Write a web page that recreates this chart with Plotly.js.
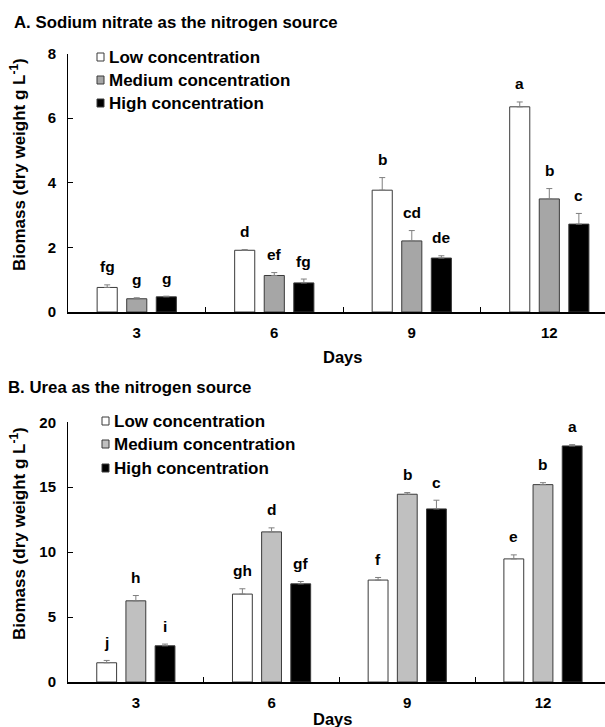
<!DOCTYPE html>
<html>
<head>
<meta charset="utf-8">
<script src="https://cdn.plot.ly/plotly-3.0.1.min.js"></script>
<style>html,body{margin:0;padding:0;background:#fff;}#chart{width:605px;height:727px;}</style>
</head>
<body>
<div id="chart"></div>
<script>
// ---- data ----
const days = ['3', '6', '9', '12'];
const seriesNames = ['Low concentration', 'Medium concentration', 'High concentration'];

// Panel A: sodium nitrate
const nitrateLow = [0.76, 1.91, 3.77, 6.35];
const nitrateLowErr = [0.08, 0.02, 0.39, 0.15];
const nitrateMed = [0.41, 1.13, 2.20, 3.50];
const nitrateMedErr = [0.03, 0.09, 0.32, 0.32];
const nitrateHigh = [0.47, 0.90, 1.67, 2.72];
const nitrateHighErr = [0.02, 0.12, 0.07, 0.33];
const nitrateLowLetters = ['fg', 'd', 'b', 'a'];
const nitrateMedLetters = ['g', 'ef', 'cd', 'b'];
const nitrateHighLetters = ['g', 'fg', 'de', 'c'];

// Panel B: urea
const ureaLow = [1.48, 6.77, 7.85, 9.48];
const ureaLowErr = [0.18, 0.41, 0.20, 0.31];
const ureaMed = [6.25, 11.56, 14.46, 15.20];
const ureaMedErr = [0.41, 0.31, 0.13, 0.15];
const ureaHigh = [2.79, 7.56, 13.33, 18.18];
const ureaHighErr = [0.13, 0.18, 0.67, 0.10];
const ureaLowLetters = ['j', 'gh', 'f', 'e'];
const ureaMedLetters = ['h', 'd', 'b', 'b'];
const ureaHighLetters = ['i', 'gf', 'c', 'a'];

const titleA = 'A. Sodium nitrate as the nitrogen source';
const titleB = 'B. Urea as the nitrogen source';
const yTitle = 'Biomass (dry weight g L<sup>-1</sup>)';
const xTitle = 'Days';

// ---- styling ----
const W = 605, H = 727;
const FONT = 'Arial, "Liberation Sans", sans-serif';
const fillA = ['#ffffff', '#a6a6a6', '#000000'];
const fillB = ['#ffffff', '#c0c0c0', '#000000'];
const bargap = 0.355, bargroupgap = 0.32;
const xDomLeft = 68 / W;
const xRangeA = [-0.5, 3.405];
const xRangeB = [-0.5, 3.457];

function px(y) { return 1 - y / H; }

const panels = [
  {vals: [nitrateLow, nitrateMed, nitrateHigh], errs: [nitrateLowErr, nitrateMedErr, nitrateHighErr],
   letters: [nitrateLowLetters, nitrateMedLetters, nitrateHighLetters], fills: fillA, xa: 'x', ya: 'y', xr: xRangeA},
  {vals: [ureaLow, ureaMed, ureaHigh], errs: [ureaLowErr, ureaMedErr, ureaHighErr],
   letters: [ureaLowLetters, ureaMedLetters, ureaHighLetters], fills: fillB, xa: 'x2', ya: 'y2', xr: xRangeB}
];

const traces = [];
const annotations = [];
const shapes = [];
const slot = (1 - bargap) / 3; // width of one bar slot in category units
panels.forEach(function (p) {
  for (let j = 0; j < 3; j++) {
    traces.push({
      type: 'bar', x: days, y: p.vals[j], name: seriesNames[j], showlegend: false,
      xaxis: p.xa, yaxis: p.ya,
      marker: {color: p.fills[j], line: {color: '#3a3a3a', width: 1}},
      error_y: {type: 'data', array: p.errs[j], arrayminus: p.vals[j].map(function () { return 0; }),
        symmetric: false, visible: true, color: '#7f7f7f', thickness: 1, width: 3},
      hoverinfo: 'skip'
    });
    for (let i = 0; i < days.length; i++) {
      annotations.push({
        xref: p.xa, yref: p.ya, x: i + (j - 1) * slot, y: p.vals[j][i] + p.errs[j][i],
        yshift: 18, yanchor: 'middle', xanchor: 'center', showarrow: false,
        text: p.letters[j][i], font: {family: FONT, size: 15.5, color: '#000', weight: 'bold'}
      });
    }
  }
});

// titles and legends (positions in paper space)
const textFont = function (s) { return {family: FONT, size: s, color: '#000', weight: 'bold'}; };
annotations.push({xref: 'paper', yref: 'paper', x: 12 / W, y: px(23), xanchor: 'left', yanchor: 'middle',
  showarrow: false, text: titleA, font: textFont(16.8)});
annotations.push({xref: 'paper', yref: 'paper', x: 6 / W, y: px(387), xanchor: 'left', yanchor: 'middle',
  showarrow: false, text: titleB, font: textFont(16.8)});
annotations.push({xref: 'paper', yref: 'paper', x: 18 / W, y: px(165), xanchor: 'center', yanchor: 'middle',
  textangle: -90, showarrow: false, text: yTitle, font: textFont(17)});
annotations.push({xref: 'paper', yref: 'paper', x: 18 / W, y: px(534), xanchor: 'center', yanchor: 'middle',
  textangle: -90, showarrow: false, text: yTitle, font: textFont(17)});
annotations.push({xref: 'paper', yref: 'paper', x: 342 / W, y: px(357), xanchor: 'center', yanchor: 'middle',
  showarrow: false, text: xTitle, font: textFont(16.5)});
annotations.push({xref: 'paper', yref: 'paper', x: 332 / W, y: px(719), xanchor: 'center', yanchor: 'middle',
  showarrow: false, text: xTitle, font: textFont(16.5)});

const legendSpecs = [
  {sx: 97, tx: 107, rows: [57, 80, 103], fills: fillA},
  {sx: 102, tx: 112, rows: [421, 444, 468], fills: fillB}
];
legendSpecs.forEach(function (L) {
  for (let j = 0; j < 3; j++) {
    const yc = L.rows[j];
    shapes.push({type: 'rect', xref: 'paper', yref: 'paper', x0: L.sx / W, x1: (L.sx + 7) / W,
      y0: px(yc + 4), y1: px(yc - 4), fillcolor: L.fills[j], line: {color: '#3a3a3a', width: 1}});
    annotations.push({xref: 'paper', yref: 'paper', x: L.tx / W, y: px(yc), xanchor: 'left', yanchor: 'middle',
      showarrow: false, text: seriesNames[j], font: textFont(17)});
  }
});

const xCommon = {
  type: 'category', showline: true, linecolor: '#000', linewidth: 2, ticks: 'inside', tickson: 'boundaries',
  ticklen: 5, tickwidth: 1, tickcolor: '#000', showgrid: false, zeroline: false, fixedrange: true,
  tickfont: {family: FONT, size: 15, color: '#000', weight: 'bold'}, ticklabelstandoff: 6
};
const yCommon = {
  showline: true, linecolor: '#000', linewidth: 1, ticks: 'inside', ticklen: 5, tickwidth: 1, tickcolor: '#000',
  showgrid: false, zeroline: false, fixedrange: true,
  tickfont: {family: FONT, size: 15, color: '#000', weight: 'bold'}, ticklabelstandoff: 8
};

const layout = {
  width: W, height: H, margin: {l: 0, r: 0, t: 0, b: 0},
  paper_bgcolor: '#fff', plot_bgcolor: 'rgba(0,0,0,0)',
  barmode: 'group', bargap: bargap, bargroupgap: bargroupgap,
  showlegend: false,
  font: {family: FONT, color: '#000'},
  xaxis: Object.assign({}, xCommon, {domain: [xDomLeft, 1], range: xRangeA, anchor: 'y'}),
  yaxis: Object.assign({}, yCommon, {domain: [px(312), px(53.5)], range: [0, 8], dtick: 2, anchor: 'x'}),
  xaxis2: Object.assign({}, xCommon, {domain: [xDomLeft, 1], range: xRangeB, anchor: 'y2'}),
  yaxis2: Object.assign({}, yCommon, {domain: [px(682), px(422.3)], range: [0, 20], dtick: 5, anchor: 'x2'}),
  annotations: annotations,
  shapes: shapes
};

Plotly.newPlot('chart', traces, layout, {staticPlot: true, displayModeBar: false});
</script>
</body>
</html>
